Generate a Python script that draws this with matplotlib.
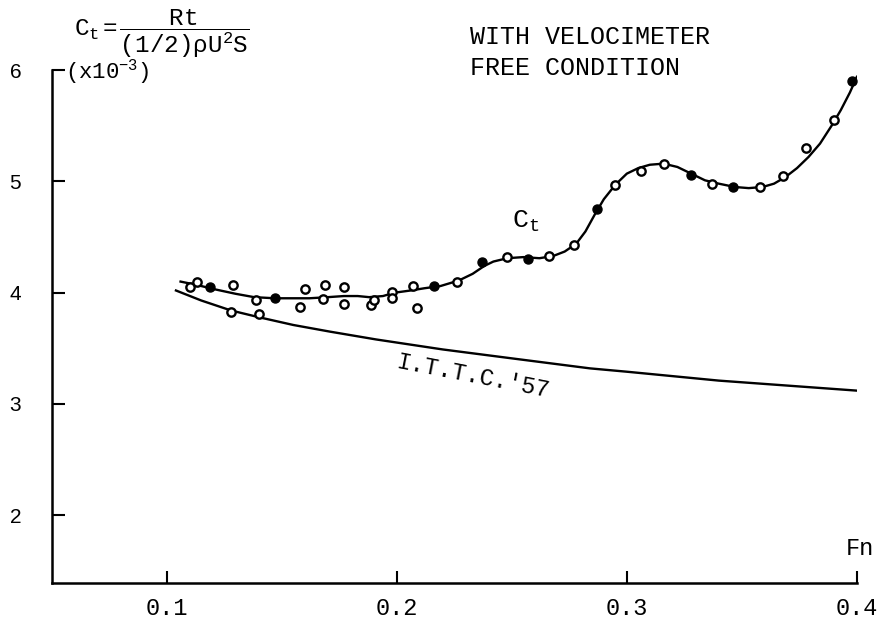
import numpy as np
import matplotlib.pyplot as plt

plt.rcParams['font.family'] = ['Liberation Mono', 'DejaVu Sans']
plt.rcParams['mathtext.fontset'] = 'custom'
plt.rcParams['mathtext.rm'] = 'Liberation Mono'
plt.rcParams['mathtext.it'] = 'Liberation Mono'

# measured points (Fn, Ct x10^-3)
fn_open = [0.110, 0.113, 0.129, 0.128, 0.139, 0.140, 0.160, 0.158, 0.169, 0.168,
           0.177, 0.177, 0.189, 0.190, 0.198, 0.198, 0.207, 0.209, 0.226, 0.248,
           0.266, 0.277, 0.295, 0.306, 0.316, 0.337, 0.358, 0.368, 0.378, 0.390]
ct_open = [4.05, 4.10, 4.07, 3.83, 3.93, 3.81, 4.03, 3.87, 4.07, 3.94,
           4.05, 3.90, 3.89, 3.93, 4.01, 3.95, 4.06, 3.86, 4.10, 4.32,
           4.33, 4.43, 4.97, 5.09, 5.16, 4.98, 4.95, 5.05, 5.30, 5.55]
fn_fill = [0.119, 0.147, 0.216, 0.237, 0.257, 0.287, 0.328, 0.346, 0.398]
ct_fill = [4.05, 3.95, 4.06, 4.28, 4.30, 4.75, 5.06, 4.95, 5.90]

# faired Ct curve
fn_curve = [0.106, 0.113, 0.121, 0.130, 0.138, 0.147, 0.155, 0.162, 0.170, 0.177,
            0.183, 0.188, 0.194, 0.199, 0.206, 0.212, 0.219, 0.227, 0.233, 0.238,
            0.242, 0.248, 0.255, 0.262, 0.268, 0.273, 0.278, 0.282, 0.286, 0.290,
            0.295, 0.300, 0.305, 0.310, 0.316, 0.322, 0.328, 0.334, 0.340, 0.347,
            0.353, 0.359, 0.364, 0.369, 0.374, 0.379, 0.384, 0.389, 0.393, 0.397, 0.400]
ct_curve = [4.10, 4.07, 4.03, 3.99, 3.96, 3.95, 3.95, 3.95, 3.96, 3.97,
            3.97, 3.96, 3.97, 4.00, 4.02, 4.04, 4.06, 4.11, 4.17, 4.24,
            4.28, 4.31, 4.32, 4.31, 4.33, 4.37, 4.44, 4.55, 4.70, 4.84,
            4.97, 5.07, 5.12, 5.15, 5.16, 5.13, 5.07, 5.01, 4.98, 4.95,
            4.94, 4.95, 4.98, 5.04, 5.12, 5.22, 5.34, 5.50, 5.64, 5.80, 5.94]

# I.T.T.C. '57 line
fn_ittc = [0.104, 0.115, 0.128, 0.140, 0.155, 0.171, 0.191, 0.220, 0.250,
           0.284, 0.300, 0.320, 0.340, 0.360, 0.380, 0.400]
ct_ittc = [4.02, 3.93, 3.84, 3.78, 3.71, 3.65, 3.58, 3.49, 3.41,
           3.32, 3.29, 3.25, 3.21, 3.18, 3.15, 3.12]

fig = plt.figure(figsize=(8.77, 6.21), dpi=100)
ax = fig.add_axes([0.059, 0.061, 0.918, 0.826])

ax.plot(fn_curve, ct_curve, color='black', lw=1.7)
ax.plot(fn_ittc, ct_ittc, color='black', lw=1.7)
ax.plot(fn_open, ct_open, 'o', ms=6, mfc='white', mec='black', mew=1.7)
ax.plot(fn_fill, ct_fill, 'o', ms=6.5, color='black')

ax.set_xlim(0.05, 0.4)
ax.set_ylim(1.39, 6.0)
ax.spines['top'].set_visible(False)
ax.spines['right'].set_visible(False)
ax.spines['left'].set_linewidth(1.8)
ax.spines['bottom'].set_linewidth(1.8)

ax.set_xticks([0.1, 0.2, 0.3, 0.4])
ax.set_xticklabels(['0.1', '0.2', '0.3', '0.4'])
ax.set_yticks([2, 3, 4, 5, 6])
ax.set_yticklabels(['2', '3', '4', '5', '6'], family='Liberation Sans', fontsize=15)
ax.tick_params(axis='x', direction='in', length=9, width=1.5, pad=10, labelsize=17)
ax.tick_params(axis='y', direction='in', length=9, width=1.5, pad=22)

ax.text(0.4015, 1.70, 'Fn', fontsize=17, ha='center', va='center')
ax.text(0.256, 4.64, r'$\mathrm{C_t}$', fontsize=19, ha='center', va='center')
ax.text(0.233, 3.25, "I.T.T.C.'57", fontsize=17, ha='center', va='center', rotation=-11)

fig.text(0.074, 0.884, r'(x10$^{-3}$)', fontsize=16, ha='left', va='center')
fig.text(0.084, 0.946, r'$\mathrm{C_t}=\dfrac{\mathrm{Rt}}{\mathrm{(1/2)\rho U^2 S}}$',
         fontsize=17.5, ha='left', va='center')
fig.text(0.536, 0.94, 'WITH VELOCIMETER', fontsize=18, ha='left', va='center')
fig.text(0.536, 0.89, 'FREE CONDITION', fontsize=18, ha='left', va='center')

fig.savefig('out.png', dpi=100)
